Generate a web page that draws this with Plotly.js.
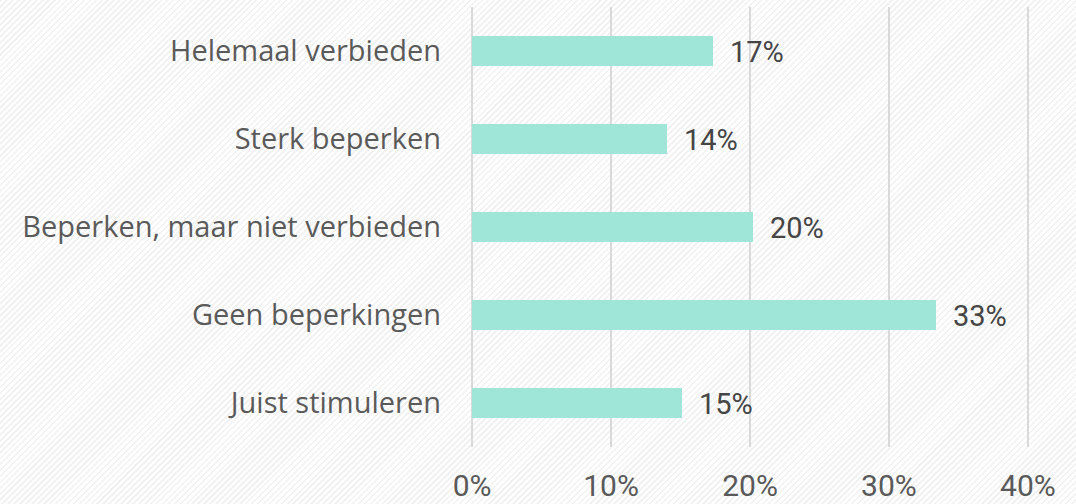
<!DOCTYPE html>
<html>
<head>
<meta charset="utf-8">
<script src="https://cdn.plot.ly/plotly-3.0.1.min.js"></script>
<style>
html, body { margin:0; padding:0; }
body {
  width:1076px; height:504px; overflow:hidden;
  background: repeating-linear-gradient(-45deg, #ffffff 0px, #ffffff 2.4px, #f2f2f2 2.4px, #f2f2f2 4.2px);
}
#chart { width:1076px; height:504px; }
</style>
</head>
<body>
<div id="chart"></div>
<script>
const categories = ["Helemaal verbieden", "Sterk beperken", "Beperken, maar niet verbieden", "Geen beperkingen", "Juist stimuleren"];
const values = [17.3, 14.0, 20.2, 33.4, 15.1];
const valueLabels = ["17%", "14%", "20%", "33%", "15%"];
const tickValues = [0, 10, 20, 30, 40];
const tickLabels = ["0%", "10%", "20%", "30%", "40%"];

const trace = {
  type: "bar",
  orientation: "h",
  y: categories,
  x: values,
  width: 0.35,
  marker: { color: "#a0e6d8" },
  hoverinfo: "skip"
};

const annotations = categories.map((c, i) => ({
  x: values[i], y: c, xref: "x", yref: "y",
  text: valueLabels[i], showarrow: false,
  xanchor: "left", yanchor: "middle", xshift: 15, yshift: -1,
  font: { family: "Roboto, sans-serif", size: 29, color: "#454545" }
}));

const layout = {
  width: 1076, height: 504,
  margin: { l: 471, r: 46, t: 7, b: 57 },
  paper_bgcolor: "rgba(0,0,0,0)",
  plot_bgcolor: "rgba(0,0,0,0)",
  showlegend: false,
  bargap: 0,
  xaxis: {
    range: [-0.08, 40.15],
    tickvals: tickValues,
    ticktext: tickLabels,
    showgrid: true, gridcolor: "#d9d9d9", gridwidth: 2,
    zeroline: false, showline: false,
    ticks: "",
    ticklabelstandoff: 18,
    tickfont: { family: "Roboto, sans-serif", size: 30, color: "#595959" },
    fixedrange: true
  },
  yaxis: {
    autorange: false,
    range: [4.5, -0.5],
    type: "category",
    showgrid: false, zeroline: false, showline: false,
    ticks: "",
    ticklabelstandoff: 29,
    tickfont: { family: "Open Sans, sans-serif", size: 29, color: "#5a5a5a" },
    fixedrange: true
  },
  annotations: annotations
};

Plotly.newPlot("chart", [trace], layout, { displayModeBar: false, staticPlot: true });
</script>
</body>
</html>
